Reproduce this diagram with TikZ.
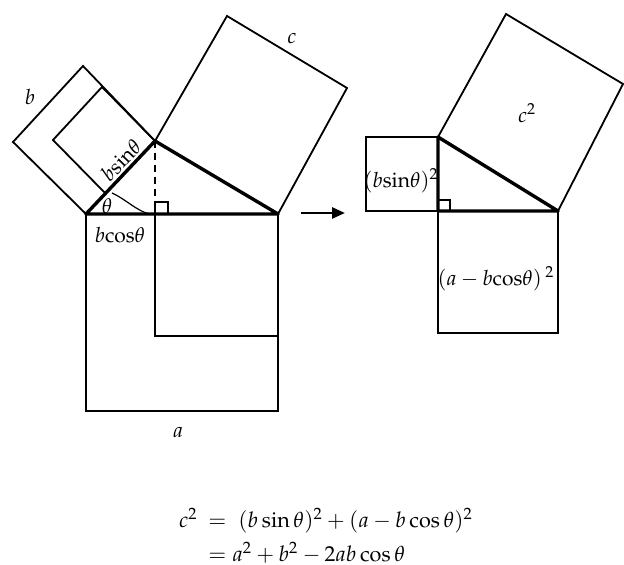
\documentclass[tikz,border=0pt]{standalone}
\usepackage{amsmath}
\usepackage{mathpazo}
\usetikzlibrary{arrows.meta}
\tikzset{
  sq/.style={line width=0.9pt, line join=miter},
  tri/.style={line width=1.7pt, line join=round},
  lbl/.style={font=\fontsize{10.5}{12}\selectfont, inner sep=0pt},
  eq/.style={font=\fontsize{10.8}{13}\selectfont, inner sep=0pt},
  rmark/.style={line width=0.8pt},
  arr/.style={line width=1.3pt, -{Triangle[length=6.5pt,width=5.5pt]}}
}
\begin{document}
\begin{tikzpicture}[x=0.5pt,y=-0.5pt]
\useasboundingbox (0,0) rectangle (624,565);
% ---------- left figure ----------
\coordinate (A) at (86,214);
\coordinate (B) at (278,214);
\coordinate (C) at (155,141);
\coordinate (F) at (155,214);
\coordinate (bT) at (83,66);
\coordinate (bL) at (13,142);
\coordinate (P1) at (102,87);
\coordinate (P2) at (53,140);
\coordinate (P3) at (106,194);
\coordinate (cT) at (227,16);
\coordinate (cR) at (347,88);
\coordinate (aBR) at (278,411);
\coordinate (aBL) at (86,411);
\coordinate (iB) at (155,336);
\coordinate (iR) at (278,336);
% squares
\draw[sq] (A) -- (bL) -- (bT) -- (C);
\draw[sq] (C) -- (P1) -- (P2) -- (P3);
\draw[sq] (C) -- (cT) -- (cR) -- (B);
\draw[sq] (A) -- (aBL) -- (aBR) -- (B);
\draw[sq] (F) -- (iB) -- (iR);
% altitude and right angle
\draw[line width=1.1pt, dash pattern=on 3.5pt off 2.5pt] (C) -- (F);
\draw[rmark] (F) rectangle (168,202);
% triangle
\draw[tri] (A) -- (C) -- (B) -- cycle;
% angle arc
\draw[line width=0.6pt] (112,193) .. controls (124,198) and (138,212) .. (150,214);
% labels
\node[lbl] (lb) at (30,97) {$b$};
\node[lbl] (lc) at (292,39) {$c$};
\node[lbl] (la) at (178,433) {$a$};
\node[lbl] (lth) at (107,206) {$\theta$};
\node[lbl] (lbc) at (120,235) {$b\mathrm{cos}\theta$};
\node[lbl, rotate=46] (lbs) at (121,160) {$b\mathrm{sin}\theta$};
% arrow
\coordinate (arS) at (301,213);
\coordinate (arE) at (345,213);
\draw[arr] (arS) -- (arE);
% ---------- right figure ----------
\coordinate (R) at (438,211);
\coordinate (T) at (438,137);
\coordinate (Bp) at (558,211);
\coordinate (sL1) at (366,137);
\coordinate (sL2) at (366,211);
\coordinate (sB1) at (438,333);
\coordinate (sB2) at (558,333);
\coordinate (cT2) at (506,14);
\coordinate (cR2) at (623,84);
\draw[sq] (T) -- (sL1) -- (sL2) -- (R);
\draw[sq] (R) -- (sB1) -- (sB2) -- (Bp);
\draw[sq] (T) -- (cT2) -- (cR2) -- (Bp);
\draw[rmark] (R) rectangle (450,200);
\draw[tri] (R) -- (T) -- (Bp) -- cycle;
\node[lbl] (lc2) at (527,113) {$c^2$};
\node[lbl] (lbs2) at (401,181) {$(b\mathrm{sin}\theta)^2$};
\node[lbl] (lac2) at (496,279) {$(a-b\mathrm{cos}\theta)\,^2$};
% ---------- equations ----------
\node[eq, anchor=base east] (e0) at (198,527) {$c^2$};
\node[eq, anchor=base west] (e1) at (208,527) {$=\;(b\sin\theta)^2+(a-b\cos\theta)^2$};
\node[eq, anchor=base west] (e2) at (208,561) {$=a^2+b^2-2ab\cos\theta$};
\end{tikzpicture}
\end{document}
